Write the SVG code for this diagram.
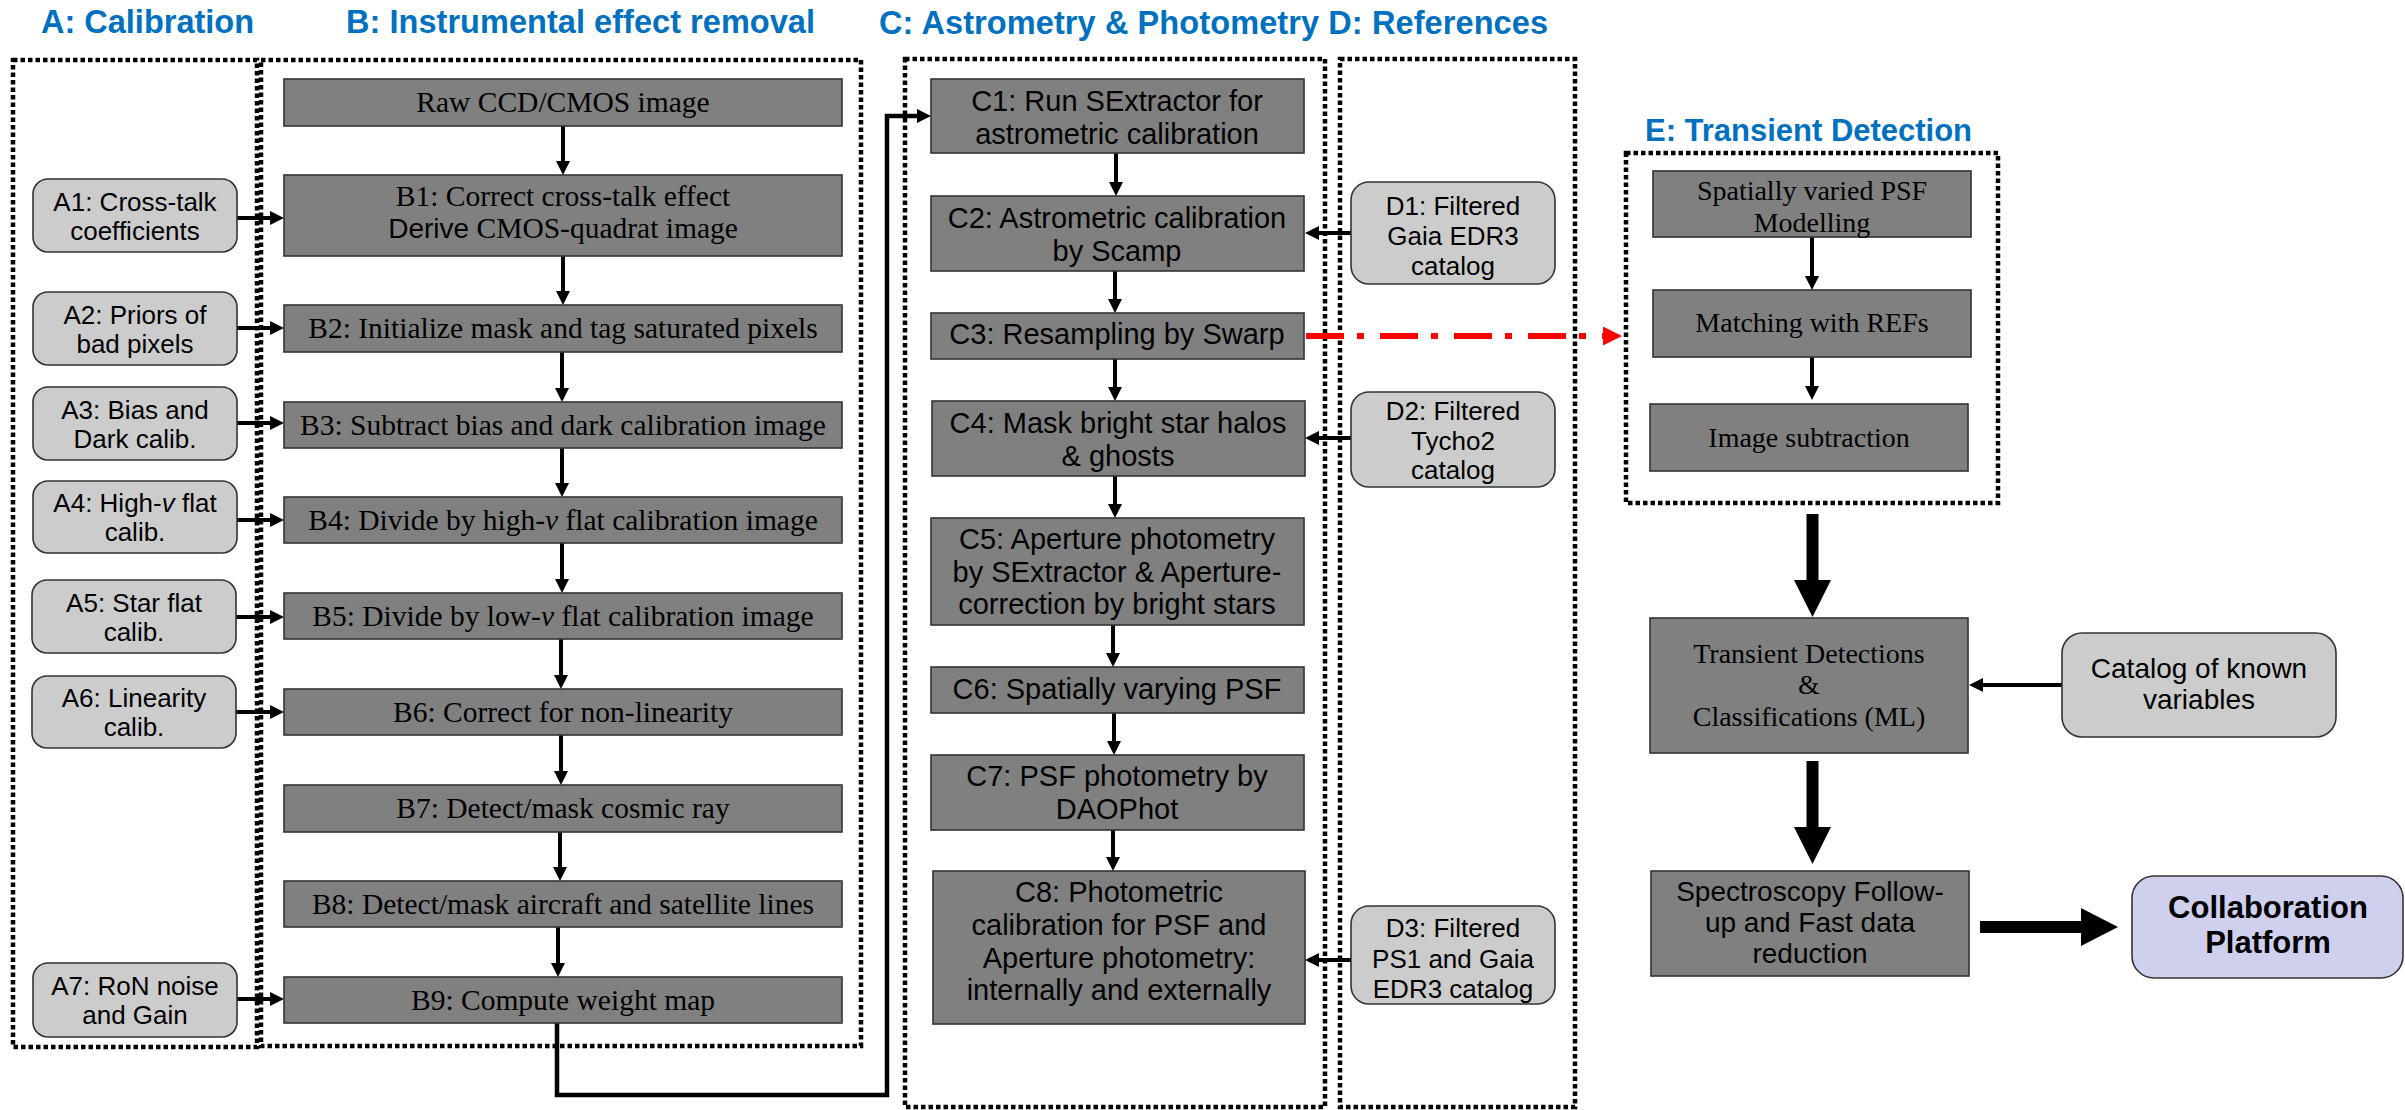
<svg xmlns="http://www.w3.org/2000/svg" width="2405" height="1110" viewBox="0 0 2405 1110">
<style>
.title{font-family:"Liberation Sans",Arial,sans-serif;font-weight:bold;fill:#0070C0;font-size:32.5px}
.dot{fill:none;stroke:#000;stroke-width:4.5;stroke-dasharray:4.5 3}
.dk{fill:#808080;stroke:#333;stroke-width:1.6}
.lt{fill:#CCCCCC;stroke:#333;stroke-width:1.6}
.lav{fill:#CFCFEE;stroke:#333;stroke-width:1.6}
.serif{font-family:"Liberation Serif","Times New Roman",serif;font-size:29.5px;fill:#000;text-anchor:middle}
.serifE{font-family:"Liberation Serif","Times New Roman",serif;font-size:28px;fill:#000;text-anchor:middle}
.sansA{font-family:"Liberation Sans",Arial,sans-serif;font-size:26px;fill:#000;text-anchor:middle}
.sansC{font-family:"Liberation Sans",Arial,sans-serif;font-size:29px;fill:#000;text-anchor:middle}
.sansE{font-family:"Liberation Sans",Arial,sans-serif;font-size:28px;fill:#000;text-anchor:middle}
.bold{font-family:"Liberation Sans",Arial,sans-serif;font-size:31px;font-weight:bold;fill:#000;text-anchor:middle}
.ln{fill:none;stroke:#000;stroke-width:4;marker-end:url(#ah)}
.red{fill:none;stroke:#FF0000;stroke-width:6;stroke-dasharray:38 13 7 16;marker-end:url(#ahr)}
.thick{fill:#000;stroke:none}
</style>
<defs>
<marker id="ah" viewBox="0 0 14 14" refX="2" refY="7" markerWidth="14" markerHeight="14" markerUnits="userSpaceOnUse" orient="auto">
<path d="M0,0 L14,7 L0,14 z" fill="#000"/>
</marker>
<marker id="ahr" viewBox="0 0 19 19" refX="3" refY="9.5" markerWidth="19" markerHeight="19" markerUnits="userSpaceOnUse" orient="auto">
<path d="M0,0 L19,9.5 L0,19 z" fill="#FF0000"/>
</marker>
</defs>
<rect width="2405" height="1110" fill="#fff"/>

<g id="titles">
<text class="title" x="41" y="33" textLength="213">A: Calibration</text>
<text class="title" x="346" y="33" textLength="469">B: Instrumental effect removal</text>
<text class="title" x="879" y="34" textLength="669">C: Astrometry &amp; Photometry D: References</text>
<text class="title" x="1645" y="141" textLength="327" style="font-size:31px">E: Transient Detection</text>
</g>

<g id="groups">
<rect class="dot" x="13" y="60" width="244" height="987"/>
<rect class="dot" x="261" y="60" width="600" height="986"/>
<rect class="dot" x="905" y="59" width="420" height="1048"/>
<rect class="dot" x="1340" y="59" width="235" height="1048"/>
<rect class="dot" x="1626" y="153" width="372" height="350"/>
</g>

<g id="connectors">
<line class="ln" x1="563" y1="126" x2="563" y2="163"/>
<line class="ln" x1="563" y1="256" x2="563" y2="293"/>
<line class="ln" x1="562" y1="352" x2="562" y2="390"/>
<line class="ln" x1="562" y1="448" x2="562" y2="485"/>
<line class="ln" x1="562" y1="543" x2="562" y2="581"/>
<line class="ln" x1="561" y1="639" x2="561" y2="677"/>
<line class="ln" x1="561" y1="735" x2="561" y2="773"/>
<line class="ln" x1="560" y1="832" x2="560" y2="869"/>
<line class="ln" x1="558" y1="927" x2="558" y2="965"/>
<line class="ln" x1="237" y1="218" x2="272" y2="218"/>
<line class="ln" x1="237" y1="328" x2="272" y2="328"/>
<line class="ln" x1="237" y1="423" x2="272" y2="423"/>
<line class="ln" x1="237" y1="520" x2="272" y2="520"/>
<line class="ln" x1="236" y1="617" x2="272" y2="617"/>
<line class="ln" x1="236" y1="712" x2="272" y2="712"/>
<line class="ln" x1="237" y1="999" x2="272" y2="999"/>
<path class="ln" style="stroke-width:4.5" d="M557,1023 V1095 H887 V116 H919"/>
<line class="ln" x1="1116" y1="153" x2="1116" y2="184"/>
<line class="ln" x1="1115" y1="271" x2="1115" y2="301"/>
<line class="ln" x1="1115" y1="359" x2="1115" y2="389"/>
<line class="ln" x1="1115" y1="476" x2="1115" y2="506"/>
<line class="ln" x1="1113" y1="625" x2="1113" y2="655"/>
<line class="ln" x1="1114" y1="713" x2="1114" y2="743"/>
<line class="ln" x1="1113" y1="830" x2="1113" y2="859"/>
<line class="ln" x1="1351" y1="233" x2="1317" y2="233"/>
<line class="ln" x1="1351" y1="438" x2="1317" y2="438"/>
<line class="ln" x1="1351" y1="960" x2="1317" y2="960"/>
<line class="red" x1="1306" y1="336" x2="1606" y2="336"/>
<line class="ln" x1="1812" y1="237" x2="1812" y2="278"/>
<line class="ln" x1="1812" y1="357" x2="1812" y2="388"/>
<line class="ln" x1="2062" y1="685" x2="1981" y2="685"/>
<path class="thick" d="M1806.5,514 H1818.5 V580 H1831 L1812.5,617 L1794,580 H1806.5 Z"/>
<path class="thick" d="M1806.5,761 H1818.5 V827 H1831 L1812.5,864 L1794,827 H1806.5 Z"/>
<path class="thick" d="M1980,921 H2081 V908 L2118,927 L2081,946 V933 H1980 Z"/>
</g>

<g id="raw"><rect class="dk" x="284" y="79" width="558" height="47"/><text class="serif" x="563" y="112">Raw CCD/CMOS image</text></g>
<g id="B1"><rect class="dk" x="284" y="175" width="558" height="81"/><text class="serif" x="563" y="206">B1: Correct cross-talk effect</text><text class="serif" x="563" y="238"><tspan font-family="Liberation Sans, Arial, sans-serif" font-size="28">Derive</tspan> CMOS-quadrat image</text></g>
<g id="B2"><rect class="dk" x="284" y="305" width="558" height="47"/><text class="serif" x="563" y="338">B2: Initialize mask and tag saturated pixels</text></g>
<g id="B3"><rect class="dk" x="284" y="402" width="558" height="46"/><text class="serif" x="563" y="435">B3: Subtract bias and dark calibration image</text></g>
<g id="B4"><rect class="dk" x="284" y="497" width="558" height="46"/><text class="serif" x="563" y="530">B4: Divide by high-<tspan font-style="italic">v</tspan> flat calibration image</text></g>
<g id="B5"><rect class="dk" x="284" y="593" width="558" height="46"/><text class="serif" x="563" y="626">B5: Divide by low-<tspan font-style="italic">v</tspan> flat calibration image</text></g>
<g id="B6"><rect class="dk" x="284" y="689" width="558" height="46"/><text class="serif" x="563" y="722">B6: Correct for non-linearity</text></g>
<g id="B7"><rect class="dk" x="284" y="785" width="558" height="47"/><text class="serif" x="563" y="818">B7: Detect/mask cosmic ray</text></g>
<g id="B8"><rect class="dk" x="284" y="881" width="558" height="46"/><text class="serif" x="563" y="914">B8: Detect/mask aircraft and satellite lines</text></g>
<g id="B9"><rect class="dk" x="284" y="977" width="558" height="46"/><text class="serif" x="563" y="1010">B9: Compute weight map</text></g>

<g id="A1"><rect class="lt" x="33" y="179" width="204" height="73" rx="15"/><text class="sansA" x="135" y="211">A1: Cross-talk</text><text class="sansA" x="135" y="240">coefficients</text></g>
<g id="A2"><rect class="lt" x="33" y="292" width="204" height="73" rx="15"/><text class="sansA" x="135" y="324">A2: Priors of</text><text class="sansA" x="135" y="353">bad pixels</text></g>
<g id="A3"><rect class="lt" x="33" y="387" width="204" height="73" rx="15"/><text class="sansA" x="135" y="419">A3: Bias and</text><text class="sansA" x="135" y="448">Dark calib.</text></g>
<g id="A4"><rect class="lt" x="33" y="481" width="204" height="72" rx="15"/><text class="sansA" x="135" y="512">A4: High-<tspan font-style="italic">v</tspan> flat</text><text class="sansA" x="135" y="541">calib.</text></g>
<g id="A5"><rect class="lt" x="32" y="580" width="204" height="73" rx="15"/><text class="sansA" x="134" y="612">A5: Star flat</text><text class="sansA" x="134" y="641">calib.</text></g>
<g id="A6"><rect class="lt" x="32" y="676" width="204" height="72" rx="15"/><text class="sansA" x="134" y="707">A6: Linearity</text><text class="sansA" x="134" y="736">calib.</text></g>
<g id="A7"><rect class="lt" x="33" y="963" width="204" height="74" rx="15"/><text class="sansA" x="135" y="995">A7: RoN noise</text><text class="sansA" x="135" y="1024">and Gain</text></g>

<g id="C1"><rect class="dk" x="931" y="79" width="373" height="74"/><text class="sansC" x="1117" y="111">C1: Run SExtractor for</text><text class="sansC" x="1117" y="144">astrometric calibration</text></g>
<g id="C2"><rect class="dk" x="931" y="196" width="373" height="75"/><text class="sansC" x="1117" y="228">C2: Astrometric calibration</text><text class="sansC" x="1117" y="261">by Scamp</text></g>
<g id="C3"><rect class="dk" x="931" y="313" width="373" height="46"/><text class="sansC" x="1117" y="344">C3: Resampling by Swarp</text></g>
<g id="C4"><rect class="dk" x="932" y="401" width="373" height="75"/><text class="sansC" x="1118" y="433">C4: Mask bright star halos</text><text class="sansC" x="1118" y="466">&amp; ghosts</text></g>
<g id="C5"><rect class="dk" x="931" y="518" width="373" height="107"/><text class="sansC" x="1117" y="549">C5: Aperture photometry</text><text class="sansC" x="1117" y="582">by SExtractor &amp; Aperture-</text><text class="sansC" x="1117" y="614">correction by bright stars</text></g>
<g id="C6"><rect class="dk" x="931" y="667" width="373" height="46"/><text class="sansC" x="1117" y="699">C6: Spatially varying PSF</text></g>
<g id="C7"><rect class="dk" x="931" y="755" width="373" height="75"/><text class="sansC" x="1117" y="786">C7: PSF photometry by</text><text class="sansC" x="1117" y="819">DAOPhot</text></g>
<g id="C8"><rect class="dk" x="933" y="871" width="372" height="153"/><text class="sansC" x="1119" y="902">C8: Photometric</text><text class="sansC" x="1119" y="935">calibration for PSF and</text><text class="sansC" x="1119" y="968">Aperture photometry:</text><text class="sansC" x="1119" y="1000">internally and externally</text></g>

<g id="D1"><rect class="lt" x="1351" y="182" width="204" height="102" rx="18"/><text class="sansA" x="1453" y="215">D1: Filtered</text><text class="sansA" x="1453" y="245">Gaia EDR3</text><text class="sansA" x="1453" y="275">catalog</text></g>
<g id="D2"><rect class="lt" x="1351" y="392" width="204" height="95" rx="18"/><text class="sansA" x="1453" y="420">D2: Filtered</text><text class="sansA" x="1453" y="450">Tycho2</text><text class="sansA" x="1453" y="479">catalog</text></g>
<g id="D3"><rect class="lt" x="1351" y="906" width="204" height="98" rx="18"/><text class="sansA" x="1453" y="937">D3: Filtered</text><text class="sansA" x="1453" y="968">PS1 and Gaia</text><text class="sansA" x="1453" y="998">EDR3 catalog</text></g>

<g id="E1"><rect class="dk" x="1653" y="171" width="318" height="66"/><text class="serifE" x="1812" y="200">Spatially varied PSF</text><text class="serifE" x="1812" y="232">Modelling</text></g>
<g id="E2"><rect class="dk" x="1653" y="290" width="318" height="67"/><text class="serifE" x="1812" y="332">Matching with REFs</text></g>
<g id="E3"><rect class="dk" x="1650" y="404" width="318" height="67"/><text class="serifE" x="1809" y="447">Image subtraction</text></g>
<g id="TD"><rect class="dk" x="1650" y="618" width="318" height="135"/><text class="serifE" x="1809" y="663">Transient Detections</text><text class="serifE" x="1809" y="694">&amp;</text><text class="serifE" x="1809" y="726">Classifications (ML)</text></g>
<g id="SP"><rect class="dk" x="1651" y="871" width="318" height="105"/><text class="sansE" x="1810" y="901">Spectroscopy Follow-</text><text class="sansE" x="1810" y="932">up and Fast data</text><text class="sansE" x="1810" y="963">reduction</text></g>
<g id="CAT"><rect class="lt" x="2062" y="633" width="274" height="104" rx="20"/><text class="sansE" x="2199" y="678">Catalog of known</text><text class="sansE" x="2199" y="709">variables</text></g>
<g id="CP"><rect class="lav" x="2132" y="876" width="271" height="102" rx="22"/><text class="bold" x="2268" y="918">Collaboration</text><text class="bold" x="2268" y="953">Platform</text></g>
</svg>
